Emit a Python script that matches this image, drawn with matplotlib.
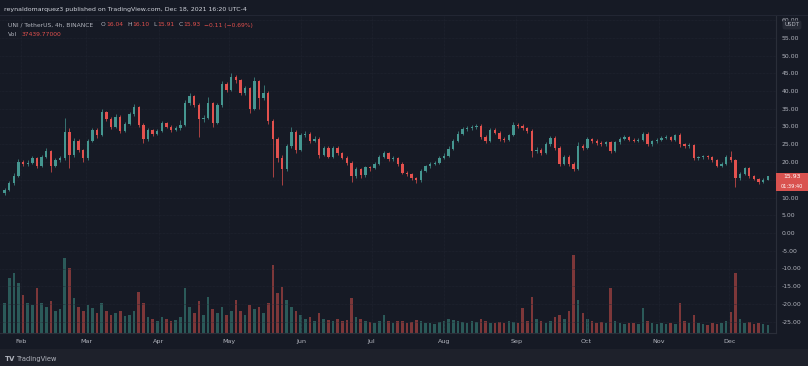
import datetime as dt
import numpy as np
import matplotlib
matplotlib.use('Agg')
import matplotlib.pyplot as plt
import matplotlib.dates as mdates
import matplotlib.transforms as mtrans
from matplotlib.patches import Rectangle
from matplotlib.lines import Line2D

# ---- data (UNI/USDT, aggregated to ~2 day candles) ----
first_open = 11.2
closes = [
    12.0, 14.0, 16.0, 20.0, 19.5, 19.8, 21.0, 18.8, 21.5, 23.2,
    19.0, 20.5, 21.0, 28.5, 22.0, 26.0, 23.4, 21.0, 26.0, 29.0,
    27.5, 34.0, 32.2, 30.0, 32.8, 28.8, 30.8, 33.5, 35.5, 30.5,
    26.5, 29.0, 28.0, 28.8, 31.0, 30.0, 29.0, 29.5, 30.5, 36.5,
    38.5, 36.0, 32.0, 32.5, 36.5, 31.0, 36.0, 42.0, 40.3, 44.0,
    43.0, 39.5, 40.8, 35.0, 42.8, 38.0, 39.5, 31.5, 26.5, 21.0,
    18.0, 24.5, 28.5, 23.5, 27.6, 28.0, 26.0, 26.5, 22.0, 24.0,
    21.5, 24.0, 22.5, 21.2, 19.8, 16.0, 18.0, 16.2, 18.5, 18.2,
    19.5, 21.5, 22.5, 20.8, 21.0, 19.5, 17.0, 16.5, 15.5, 14.8,
    17.5, 18.8, 19.5, 19.8, 21.2, 21.8, 23.8, 26.0, 28.0, 29.3,
    29.5, 29.8, 30.2, 27.0, 26.0, 29.0, 28.3, 26.5, 26.2, 27.5,
    30.5, 30.2, 29.5, 28.8, 23.0, 23.5, 22.5, 25.0, 26.8, 24.0,
    19.5, 21.5, 19.5, 18.0, 24.5, 24.0, 26.5, 26.0, 25.4, 25.0,
    25.5, 23.0, 25.5, 26.5, 27.0, 26.2, 26.0, 26.3, 28.0, 25.0,
    25.8, 26.3, 26.8, 27.0, 26.2, 27.5, 25.0, 24.5, 24.8, 21.0,
    21.3, 21.6, 21.4, 20.5, 19.0, 19.5, 21.5, 20.5, 15.5, 16.5,
    18.2, 16.0, 15.2, 14.3, 15.0, 15.93]
highs = [
    12.6, 14.6, 16.9, 20.8, 20.6, 20.5, 21.8, 21.4, 22.0, 23.9,
    23.5, 21.0, 21.6, 32.4, 29.5, 26.8, 26.4, 23.8, 26.5, 29.6,
    29.5, 34.8, 34.5, 32.6, 33.4, 33.2, 31.4, 34.2, 36.4, 35.9,
    31.0, 29.6, 29.4, 29.3, 31.6, 31.4, 30.5, 30.2, 31.8, 37.5,
    39.5, 38.9, 36.5, 33.2, 38.3, 36.9, 36.6, 42.8, 42.5, 45.0,
    44.6, 43.4, 41.5, 41.2, 43.9, 43.2, 41.7, 40.0, 32.0, 27.0,
    22.0, 25.2, 29.8, 28.9, 28.2, 28.8, 28.4, 27.2, 27.0, 24.6,
    24.4, 24.5, 24.4, 22.9, 21.6, 20.2, 18.6, 18.4, 19.0, 18.9,
    20.0, 22.0, 23.0, 22.8, 21.6, 21.4, 19.9, 17.4, 16.9, 15.9,
    17.9, 19.2, 20.0, 20.3, 21.7, 22.4, 24.4, 26.6, 28.6, 29.9,
    30.2, 30.4, 30.8, 30.6, 27.5, 29.6, 29.5, 28.7, 27.0, 28.0,
    31.2, 31.0, 30.6, 29.9, 29.2, 24.2, 23.9, 25.6, 27.4, 27.2,
    24.4, 22.0, 21.9, 19.9, 25.5, 25.0, 27.0, 26.9, 26.4, 25.8,
    26.0, 25.9, 26.0, 27.0, 27.5, 27.4, 26.7, 26.8, 28.5, 28.4,
    26.3, 26.8, 27.3, 27.5, 27.4, 28.0, 28.3, 25.4, 25.3, 25.1,
    21.8, 22.1, 22.0, 21.8, 20.9, 20.0, 22.0, 23.0, 20.9, 17.2,
    18.7, 18.5, 16.4, 15.6, 15.4, 16.1]
lows = [
    10.8, 11.7, 13.6, 15.7, 18.8, 19.0, 19.4, 18.3, 18.5, 21.0,
    17.2, 18.6, 20.0, 20.6, 18.3, 21.5, 22.8, 20.0, 20.6, 25.6,
    26.8, 27.2, 31.6, 29.4, 29.6, 28.2, 28.4, 30.4, 33.0, 30.0,
    25.4, 26.0, 27.4, 27.6, 28.4, 29.5, 28.5, 28.6, 29.0, 30.2,
    36.0, 35.4, 27.0, 31.2, 32.0, 30.0, 30.6, 35.6, 39.6, 40.0,
    42.2, 38.8, 39.0, 33.8, 34.6, 35.0, 37.4, 30.8, 15.8, 20.0,
    13.5, 17.6, 24.0, 22.5, 23.0, 27.0, 25.4, 25.5, 21.0, 21.6,
    21.0, 21.2, 22.0, 20.8, 19.2, 14.4, 15.6, 15.6, 15.9, 17.6,
    17.9, 19.2, 21.0, 20.3, 20.3, 19.0, 16.6, 16.0, 15.0, 14.2,
    14.5, 17.2, 18.4, 19.1, 19.5, 20.8, 21.5, 23.4, 25.6, 27.6,
    28.8, 29.0, 29.3, 26.5, 25.4, 25.7, 27.8, 26.0, 25.7, 25.9,
    27.2, 29.6, 29.0, 28.2, 21.4, 22.5, 22.0, 22.2, 24.6, 23.5,
    19.0, 19.2, 19.0, 17.5, 17.8, 23.4, 23.7, 25.4, 24.9, 24.5,
    24.6, 22.5, 22.7, 25.1, 26.1, 25.8, 25.6, 25.6, 26.0, 24.6,
    24.6, 25.4, 25.9, 26.4, 25.8, 25.9, 24.2, 24.0, 24.0, 20.5,
    20.6, 20.9, 20.9, 20.0, 18.5, 18.6, 19.2, 20.0, 13.0, 15.0,
    16.2, 15.6, 14.8, 13.9, 14.0, 14.8]
volume = [
    30, 55, 60, 50, 38, 30, 28, 45, 30, 26,
    32, 22, 24, 75, 65, 35, 26, 22, 28, 25,
    20, 30, 22, 18, 20, 22, 17, 18, 22, 41,
    30, 16, 14, 12, 16, 14, 12, 13, 16, 45,
    26, 20, 32, 18, 36, 24, 20, 26, 18, 22,
    33, 22, 18, 28, 24, 26, 20, 30, 68, 40,
    46, 33, 26, 22, 18, 14, 16, 12, 20, 14,
    13, 12, 14, 12, 13, 35, 16, 14, 12, 11,
    10, 12, 18, 12, 10, 12, 12, 10, 11, 13,
    12, 10, 10, 9, 11, 12, 14, 13, 12, 11,
    10, 12, 11, 14, 12, 10, 10, 11, 10, 12,
    11, 10, 25, 12, 36, 14, 12, 10, 12, 16,
    18, 14, 22, 78, 33, 20, 14, 12, 10, 11,
    10, 45, 12, 10, 9, 10, 10, 9, 25, 12,
    10, 9, 10, 9, 10, 9, 30, 12, 10, 18,
    10, 9, 8, 10, 9, 10, 12, 21, 60, 14,
    10, 11, 9, 10, 9, 8]
price_ticks = list(range(-25, 61, 5))
ohlc_labels = [('O', '16.04'), ('H', '16.10'), ('L', '15.91'), ('C', '15.93'),
               ('', '\u22120.11 (\u22120.69%)')]

start = dt.datetime(2021, 1, 24)
period = dt.timedelta(hours=47.5)

# ---- figure ----
W, H = 808, 366
BG = '#161a25'
TXT = '#b2b5be'
UP = '#459690'
DOWN = '#e3514e'

fig = plt.figure(figsize=(W / 100, H / 100), dpi=100)
fig.patch.set_facecolor(BG)


def fx(px):
    return px / W


def fy(py):
    return 1 - py / H


ax = fig.add_axes([0, fy(333), fx(776), (333 - 16) / H])
ax2 = ax.twinx()
ax.set_zorder(ax2.get_zorder() + 1)
ax.patch.set_visible(False)

n = len(closes)
opens = [first_open] + closes[:-1]
t = mdates.date2num([start + period * i + period / 2 for i in range(n)])
pd_days = period.total_seconds() / 86400
up = [c >= o for o, c in zip(opens, closes)]
col = [UP if u else DOWN for u in up]

# volume
vcol = ['#2b5a59' if u else '#7d3739' for u in up]
ax2.bar(t, volume, width=pd_days * 0.55, color=vcol, linewidth=0)
ax2.set_ylim(0, max(volume) * 317 / 78)
ax2.set_yticks([])
for s in ax2.spines.values():
    s.set_visible(False)

# candles
ax.vlines(t, lows, highs, colors=col, linewidth=0.5, zorder=3)
bottoms = [min(o, c) for o, c in zip(opens, closes)]
heights = [max(abs(c - o), 0.15) for o, c in zip(opens, closes)]
ax.bar(t, heights, bottom=bottoms, width=pd_days * 0.5, color=col,
       linewidth=0, zorder=4)

feb1 = mdates.date2num(dt.datetime(2021, 2, 1))
ppd = 2.337
ax.set_xlim(feb1 - 21 / ppd, feb1 + 755 / ppd)
ax.set_ylim((233 - 333) / 3.55, (233 - 16) / 3.55)

ax.yaxis.tick_right()
ax.set_yticks(price_ticks)
ax.yaxis.set_major_formatter(matplotlib.ticker.FormatStrFormatter('%.2f'))
ax.xaxis.set_major_locator(mdates.MonthLocator(bymonth=range(2, 13)))
ax.xaxis.set_major_formatter(mdates.DateFormatter('%b'))
ax.tick_params(axis='y', length=0, pad=4, labelsize=4.4, labelcolor=TXT)
ax.tick_params(axis='x', length=0, pad=4, labelsize=4.6, labelcolor=TXT)
ax.grid(True, color='#222632', linewidth=0.5, linestyle=(0, (1, 1)))
for s in ['left', 'top']:
    ax.spines[s].set_visible(False)
for s in ['right', 'bottom']:
    ax.spines[s].set_color('#2a2e39')
    ax.spines[s].set_linewidth(0.8)

# last price label
bt = mtrans.blended_transform_factory(ax.transAxes, ax.transData)
last = closes[-1]
ax.add_patch(Rectangle((1.0, last - 4.2), 32 / 776, 5.2, transform=bt,
                       facecolor='#d9524f', edgecolor='none', clip_on=False,
                       zorder=10))
ax.text(1.0 + 16 / 776, last, '%.2f' % last, transform=bt, ha='center',
        va='center', fontsize=4.4, color='white', zorder=11, clip_on=False)
ax.text(1.0 + 16 / 776, last - 2.7, '01:39:40', transform=bt, ha='center',
        va='center', fontsize=3.6, color='white', zorder=11, clip_on=False)

# bottom band + header line
fig.add_artist(Rectangle((0, 0), 1, (366 - 349) / H, transform=fig.transFigure,
                         facecolor='#1e212b', edgecolor='none', zorder=-1))
fig.add_artist(Line2D([0, 1], [fy(15), fy(15)], color='#252936',
                      linewidth=0.6, transform=fig.transFigure))

fig.text(fx(4), fy(9), 'reynaldomarquez3 published on TradingView.com, '
         'Dec 18, 2021 16:20 UTC-4', fontsize=4.5, color='#d1d4dc',
         va='center', ha='left')

# legend line, chained so the pieces never overlap
renderer = fig.canvas.get_renderer()
fs = 4.3
txt = fig.text(fx(8), fy(25), 'UNI / TetherUS, 4h, BINANCE', fontsize=fs,
               color=TXT, va='center')
x_px = txt.get_window_extent(renderer).x1 + 8
for lab, val in ohlc_labels:
    if lab:
        tl = fig.text(x_px / W, fy(25), lab, fontsize=fs, color=TXT,
                      va='center')
        x_px = tl.get_window_extent(renderer).x1 + 0.5
    tv = fig.text(x_px / W, fy(25), val, fontsize=fs, color=DOWN,
                  va='center')
    x_px = tv.get_window_extent(renderer).x1 + 4

tl = fig.text(fx(8), fy(34), 'Vol', fontsize=fs, color=TXT, va='center')
fig.text((tl.get_window_extent(renderer).x1 + 4) / W, fy(34), '37439.77000',
         fontsize=fs, color=DOWN, va='center')

fig.text(fx(792), fy(25), 'USDT', fontsize=4.0, color=TXT, ha='center',
         va='center', zorder=20,
         bbox=dict(boxstyle='round,pad=0.35', fc='#262a35', ec='none'))

fig.text(fx(5), fy(359), 'TV', fontsize=5, color=TXT, weight='bold',
         va='center')
fig.text(fx(17), fy(359), 'TradingView', fontsize=4.8, color=TXT,
         va='center')

fig.savefig('out.png', dpi=100, facecolor=BG)
